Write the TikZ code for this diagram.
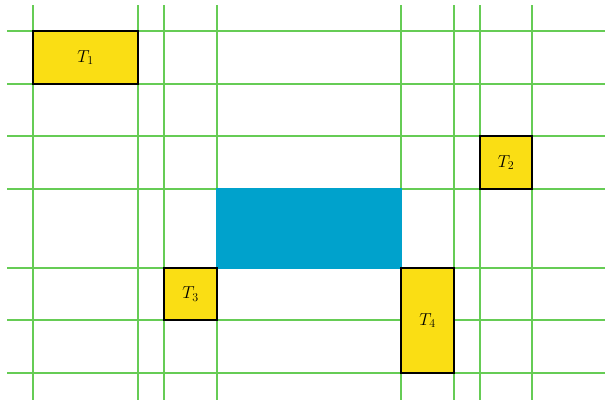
\documentclass[tikz,border=0pt]{standalone}
\definecolor{gridgreen}{RGB}{102,204,85}
\definecolor{taskyellow}{RGB}{250,222,20}
\definecolor{blockblue}{RGB}{0,162,204}
\begin{document}
\begin{tikzpicture}[x=1pt,y=-1pt,
  gridline/.style={draw=gridgreen,line width=1.2pt},
  task/.style={draw=black,fill=taskyellow,line width=1.1pt},
  lbl/.style={font=\fontsize{17}{20}\selectfont}]
\useasboundingbox (0,0) rectangle (605,400);
\foreach \x in {33,138,164,217,401,454,480,532} \draw[gridline] (\x,5) -- (\x,400);
\foreach \y in {31,84,136,189,268,320,373} \draw[gridline] (7,\y) -- (605,\y);
\fill[blockblue] (216.4,188.4) rectangle (401.6,268.6);
\draw[task] (33,31) rectangle (138,84);
\node[lbl] (t1) at (85.5,57.5) {$T_1$};
\draw[task] (480,136) rectangle (532,189);
\node[lbl] (t2) at (506,162.5) {$T_2$};
\draw[task] (164,268) rectangle (217,320);
\node[lbl] (t3) at (190.5,294) {$T_3$};
\draw[task] (401,268) rectangle (454,373);
\node[lbl] (t4) at (427.5,320.5) {$T_4$};
\end{tikzpicture}
\end{document}
